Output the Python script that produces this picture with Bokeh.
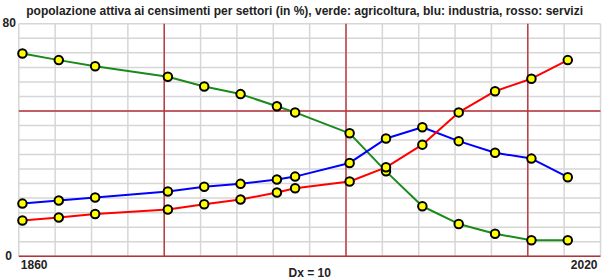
from bokeh.plotting import figure
from bokeh.models import Range1d, Label
from bokeh.embed import file_html
from bokeh.resources import INLINE

years = [1861, 1871, 1881, 1901, 1911, 1921, 1931, 1936, 1951, 1961, 1971, 1981, 1991, 2001, 2011]
agricoltura = [69.8, 67.5, 65.4, 61.8, 58.4, 55.8, 51.6, 49.5, 42.3, 29.2, 17.2, 11.1, 7.7, 5.5, 5.5]
industria = [18.1, 19.2, 20.2, 22.3, 23.9, 24.9, 26.4, 27.4, 32.1, 40.5, 44.4, 39.6, 35.6, 33.6, 27.2]
servizi = [12.3, 13.3, 14.5, 16.1, 17.9, 19.5, 21.9, 23.4, 25.7, 30.6, 38.4, 49.5, 56.8, 61.1, 67.5]

title_text = "popolazione attiva ai censimenti per settori (in %),  verde: agricoltura,  blu: industria,  rosso: servizi"
x_min, x_max = 1860, 2020
y_min, y_max = 0, 80
x_step, y_step, major_step = 10, 5, 50

W, H = 611, 279
left_px, right_px, top_px, bottom_px = 18.3, 600.0, 23.3, 255.7
xs = (right_px - left_px) / (x_max - x_min)
ys = (bottom_px - top_px) / (y_max - y_min)
xr = Range1d(x_min - left_px / xs, x_max + (W - right_px) / xs)
yr = Range1d(y_min - (H - bottom_px) / ys, y_max + top_px / ys)

p = figure(width=W, height=H, output_backend="svg", toolbar_location=None,
           x_range=xr, y_range=yr, min_border=0)
p.xaxis.visible = False
p.yaxis.visible = False
p.xgrid.visible = False
p.ygrid.visible = False
p.outline_line_color = None
p.background_fill_color = "white"
p.border_fill_color = "white"

gray = "#d6d6d6"
red_grid = "#b8323a"

gx = list(range(x_min, x_max + 1, x_step))
gy = list(range(y_min, y_max + 1, y_step))
# minor grid
p.segment(x0=gx, y0=[y_min] * len(gx), x1=gx, y1=[y_max] * len(gx), line_color=gray, line_width=1.5)
p.segment(x0=[x_min] * len(gy), y0=gy, x1=[x_max] * len(gy), y1=gy, line_color=gray, line_width=1.5)
# major grid
mx = [v for v in gx if v % major_step == 0]
my = [v for v in gy if v % major_step == 0]
p.segment(x0=mx, y0=[y_min] * len(mx), x1=mx, y1=[y_max] * len(mx), line_color=red_grid, line_width=1.4)
p.segment(x0=[x_min] * len(my), y0=my, x1=[x_max] * len(my), y1=my, line_color=red_grid, line_width=1.4)

series = [(agricoltura, "#1a8a1a"), (industria, "#0000ff"), (servizi, "#ff0000")]
for vals, col in series:
    p.line(years, vals, line_color=col, line_width=2)
for vals, col in series:
    p.scatter(years, vals, size=8.5, fill_color="#ffff00", line_color="black", line_width=2)

font = "Liberation Sans"
def lab(x, y, text, align, baseline, xo=0, yo=0, size="12px", style="bold"):
    p.add_layout(Label(x=x, y=y, text=text, text_align=align, text_baseline=baseline,
                       x_offset=xo, y_offset=yo, text_font=font, text_font_size=size,
                       text_font_style=style, text_color="#222222"))

lab((x_min + x_max) / 2, y_max, title_text, "center", "middle", yo=13, size="12px", style="bold")
lab(x_min, y_max, "80", "right", "bottom", xo=-3, yo=-3)
lab(x_min, y_min, "0", "right", "middle", xo=-7, yo=1)
lab(x_min, y_min, "1860", "left", "top", xo=2, yo=-4)
lab(x_max, y_min, "2020", "right", "top", xo=-3, yo=-4)
lab((x_min + x_max) / 2, y_min, "Dx = 10", "center", "top", yo=-10)

open("out.html", "w").write(file_html(p, INLINE))
